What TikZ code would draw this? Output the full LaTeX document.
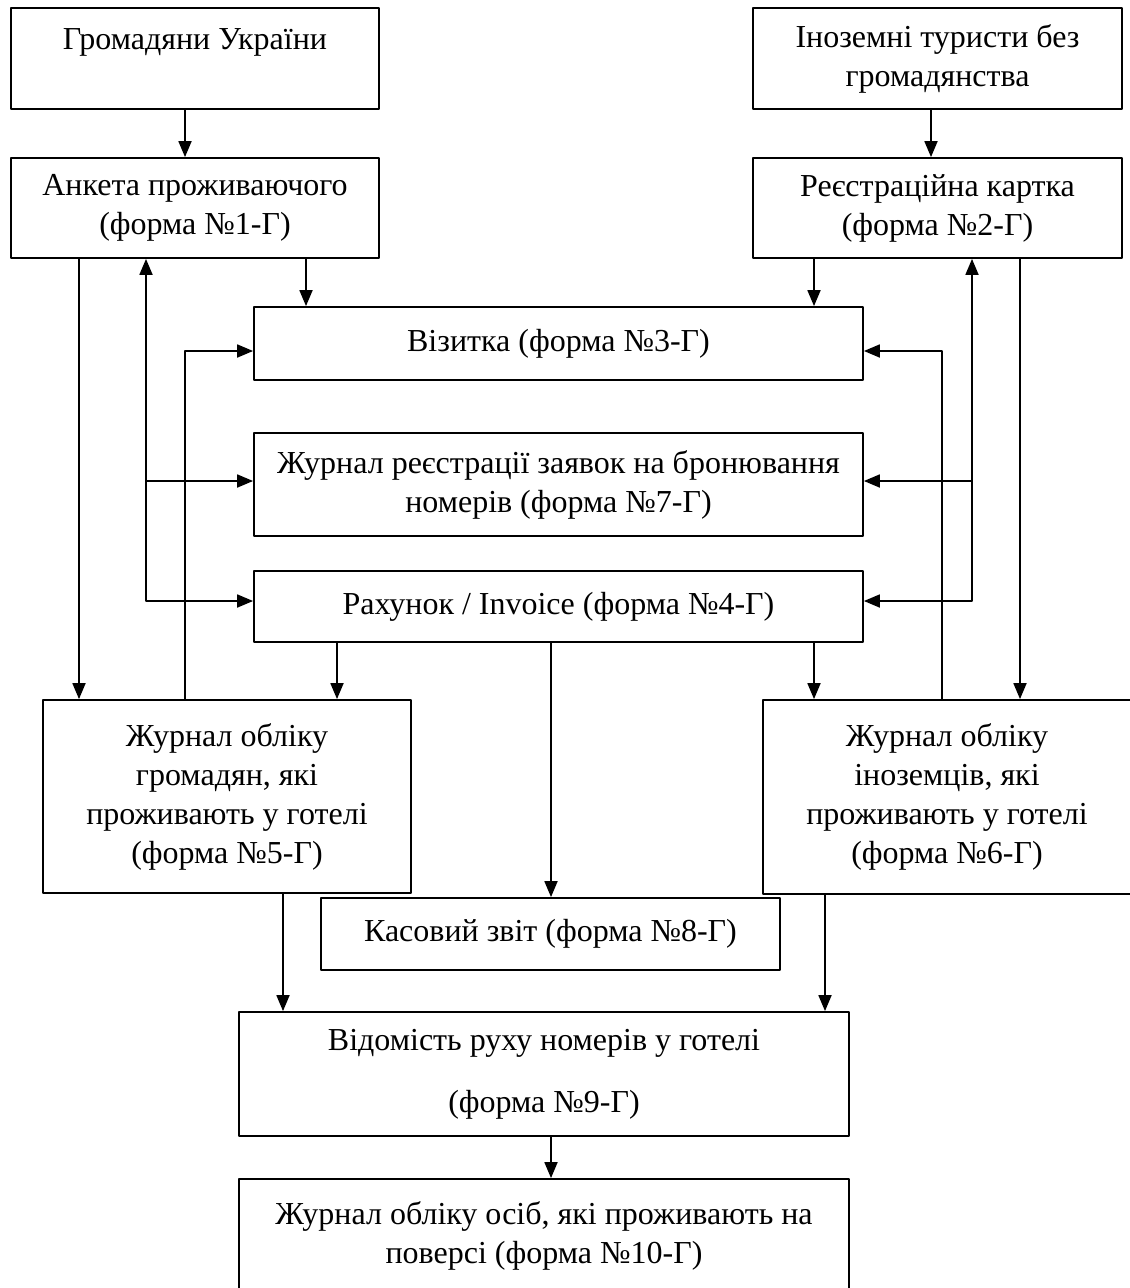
\documentclass[tikz,border=0pt]{standalone}
\usepackage{fontspec}
\setmainfont{Liberation Serif}
\usetikzlibrary{arrows.meta}

\begin{document}
\begin{tikzpicture}[x=1pt, y=-1pt, line cap=round, line join=round,
  >={Triangle[length=16pt,width=13pt]},
  doc/.style={draw, line width=1.8pt, align=center, inner sep=0pt,
    font=\fontsize{32}{39}\selectfont},
  pfeil/.style={line width=1.8pt, ->},
  doppel/.style={line width=1.8pt, <->}]

\useasboundingbox[fill=white] (0,0) rectangle (1130,1288);

% columns of the vertical connectors
\coordinate (kA) at (79,0);
\coordinate (kB) at (146,0);
\coordinate (kC) at (185,0);
\coordinate (kK) at (283,0);
\coordinate (kD) at (306,0);
\coordinate (kE) at (337,0);
\coordinate (kF) at (551,0);
\coordinate (kG) at (814,0);
\coordinate (kL) at (825,0);
\coordinate (kN) at (931,0);
\coordinate (kH) at (942,0);
\coordinate (kI) at (972,0);
\coordinate (kJ) at (1020,0);

% rows of the horizontal connectors
\coordinate (hV) at (0,351);
\coordinate (hZ) at (0,481);
\coordinate (hR) at (0,601);

% Top row

\node[doc, minimum width=368pt, minimum height=101pt] (hromad) at (195,58.5)
  {Громадяни України\\\mbox{}};
\node[doc, minimum width=369pt, minimum height=101pt] (inozem) at (937.5,58.5)
  {Іноземні туристи без\\громадянства};

\node[doc, minimum width=368pt, minimum height=100pt] (anketa) at (195,208)
  {Анкета проживаючого\\(форма №1-Г)};
\node[doc, minimum width=369pt, minimum height=100pt] (reiestr) at (937.5,208)
  {Реєстраційна картка\\(форма №2-Г)};

% Middle column

\node[doc, minimum width=609pt, minimum height=73pt] (vizytka) at (558.5,343.5)
  {Візитка (форма №3-Г)};
\node[doc, minimum width=609pt, minimum height=103pt] (zhreiestr) at (558.5,484.5)
  {Журнал реєстрації заявок на бронювання\\номерів (форма №7-Г)};
\node[doc, minimum width=609pt, minimum height=71pt] (rakhunok) at (558.5,606.5)
  {Рахунок / Invoice (форма №4-Г)};

% Journals

\node[doc, minimum width=368pt, minimum height=193pt] (zhurnal5) at (227,796.5)
  {Журнал обліку\\громадян, які\\проживають у готелі\\(форма №5-Г)};
\node[doc, minimum width=368pt, minimum height=194pt] (zhurnal6) at (947,797)
  {Журнал обліку\\іноземців, які\\проживають у готелі\\(форма №6-Г)};

\node[doc, minimum width=459pt, minimum height=72pt] (kasovyi) at (550.5,934)
  {Касовий звіт (форма №8-Г)};

% Bottom

\node[doc, minimum width=610pt, minimum height=124pt] (vidomist) at (544,1074)
  {Відомість руху номерів у готелі\\[23pt](форма №9-Г)};
\node[doc, minimum width=610pt, minimum height=113pt] (zhurnal10) at (544,1235.5)
  {Журнал обліку осіб, які проживають на\\поверсі (форма №10-Г)};

% Connectors

\draw[pfeil] (hromad.south -| kC) -- (anketa.north -| kC);
\draw[pfeil] (inozem.south -| kN) -- (reiestr.north -| kN);

\draw[pfeil] (anketa.south -| kA) -- (zhurnal5.north -| kA);
\draw[pfeil] (anketa.south -| kD) -- (vizytka.north -| kD);
\draw[pfeil] (reiestr.south -| kG) -- (vizytka.north -| kG);
\draw[pfeil] (reiestr.south -| kJ) -- (zhurnal6.north -| kJ);

\draw[pfeil] (zhurnal5.north -| kC) |- (vizytka.west |- hV);
\draw[pfeil] (zhurnal6.north -| kH) |- (vizytka.east |- hV);

\draw[doppel] (anketa.south -| kB) |- (rakhunok.west |- hR);
\draw[pfeil] (kB |- hZ) -- (zhreiestr.west |- hZ);
\draw[doppel] (reiestr.south -| kI) |- (rakhunok.east |- hR);
\draw[pfeil] (kI |- hZ) -- (zhreiestr.east |- hZ);

\draw[pfeil] (rakhunok.south -| kE) -- (zhurnal5.north -| kE);
\draw[pfeil] (rakhunok.south -| kF) -- (kasovyi.north -| kF);
\draw[pfeil] (rakhunok.south -| kG) -- (zhurnal6.north -| kG);

\draw[pfeil] (zhurnal5.south -| kK) -- (vidomist.north -| kK);
\draw[pfeil] (zhurnal6.south -| kL) -- (vidomist.north -| kL);
\draw[pfeil] (vidomist.south -| kF) -- (zhurnal10.north -| kF);

\end{tikzpicture}
\end{document}
